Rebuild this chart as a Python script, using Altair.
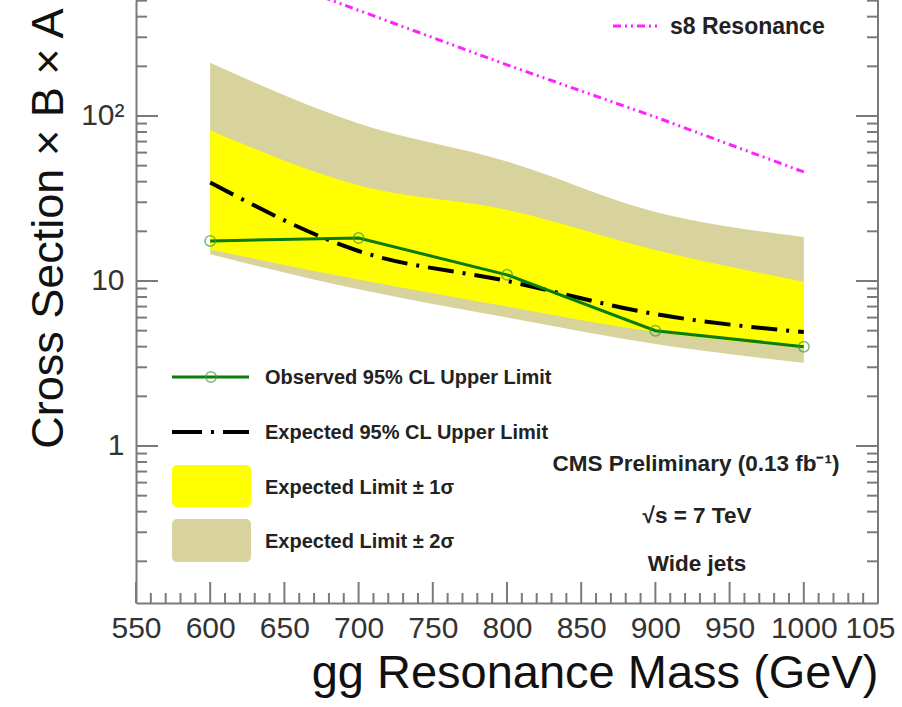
import altair as alt
import pandas as pd

# Resonance mass points (GeV) and cross-section limits (pb)
mass = [600, 700, 800, 900, 1000]
observed = [17.5, 18.2, 10.9, 5.0, 4.0]
expected = [39.5, 15.2, 10.0, 6.3, 4.9]
band1_lo = [15.5, 10.2, 7.0, 4.9, 3.95]
band1_hi = [82.0, 38.0, 27.0, 15.4, 9.9]
band2_lo = [14.5, 8.9, 6.0, 4.15, 3.2]
band2_hi = [210.0, 90.0, 53.0, 26.2, 18.5]
s8_xsec = [940.0, 437.0, 204.0, 98.6, 45.8]

# Axis tick values
x_major = list(range(550, 1051, 50))
x_minor = [v for v in range(550, 1051, 10) if v % 50]
y_major = [1, 10, 100]
y_minor = ([round(0.1 * k, 1) for k in range(2, 10)] + list(range(2, 10))
           + list(range(20, 100, 10)) + [200, 300, 400, 500])

legend_labels = ["Observed 95% CL Upper Limit", "Expected 95% CL Upper Limit",
                 "Expected Limit \u00b1 1\u03c3", "Expected Limit \u00b1 2\u03c3"]

W, H = 742, 603
FONT = "Liberation Sans"
AXIS = "#7a7a7a"
YELLOW = "#ffff00"
BEIGE = "#d8d39c"
GREEN = "#0a7d0a"
MAGENTA = "#ff22ff"

df = pd.DataFrame({
    "mass": mass, "observed": observed, "expected": expected,
    "band1_lo": band1_lo, "band1_hi": band1_hi,
    "band2_lo": band2_lo, "band2_hi": band2_hi, "s8": s8_xsec,
})

xs = alt.Scale(domain=[550, 1050], nice=False, zero=False)
ys = alt.Scale(type="log", domain=[0.1118, 504.7], nice=False)

xaxis = alt.Axis(
    values=x_major, format="d",
    labelExpr="datum.value == 1050 ? '105' : datum.label",
    labelOffset={"condition": {"test": "datum.value == 1050", "value": -8}, "value": 0},
    ticks=False, grid=False, domainColor=AXIS, domainWidth=2,
    labelFont=FONT, labelFontSize=30, labelColor="#333333", labelPadding=10,
    labelFlush=False, labelOverlap=False,
    title="gg Resonance Mass (GeV)", titleFont=FONT, titleFontSize=47,
    titleFontWeight="normal", titleColor="#111111", titleAnchor="end",
    titleBaseline="alphabetic", titleY=84,
)
yaxis = alt.Axis(
    values=y_major,
    labelExpr="datum.value >= 99 ? '10\u00b2' : (datum.value >= 9 ? '10' : '1')",
    ticks=False, grid=False, domainColor=AXIS, domainWidth=2,
    labelFont=FONT, labelFontSize=30, labelColor="#333333", labelPadding=12,
    labelOverlap=False,
    title="Cross Section \u00d7 B \u00d7 A", titleFont=FONT, titleFontSize=45,
    titleFontWeight="normal", titleColor="#111111", titleAngle=270,
    titleAnchor="end", titleAlign="right", titleBaseline="alphabetic",
    titleX=-74, titleY=8,
)

X = alt.X("mass:Q", scale=xs, axis=xaxis)

band2 = alt.Chart(df).mark_area(color=BEIGE, interpolate="monotone").encode(
    x=X, y=alt.Y("band2_lo:Q", scale=ys, axis=yaxis), y2="band2_hi:Q")
band1 = alt.Chart(df).mark_area(color=YELLOW, interpolate="monotone").encode(
    x=X, y=alt.Y("band1_lo:Q", scale=ys, axis=yaxis), y2="band1_hi:Q")
exp_line = alt.Chart(df).mark_line(
    color="black", strokeWidth=4, strokeDash=[26, 9, 3, 9], interpolate="monotone"
).encode(x=X, y=alt.Y("expected:Q", scale=ys, axis=yaxis))
obs_line = alt.Chart(df).mark_line(color=GREEN, strokeWidth=3).encode(
    x=X, y=alt.Y("observed:Q", scale=ys, axis=yaxis))
obs_pts = alt.Chart(df).mark_point(
    shape="circle", filled=False, color="#3f9f3f", size=110, strokeWidth=1.5
).encode(x=X, y=alt.Y("observed:Q", scale=ys, axis=yaxis))
s8_line = alt.Chart(df).mark_line(
    color=MAGENTA, strokeWidth=3, strokeDash=[8, 4, 2, 4, 2, 4], clip=True
).encode(x=X, y=alt.Y("s8:Q", scale=ys, axis=yaxis))

# Inward-pointing ticks on the bottom, left and right frame edges
xmaj = pd.DataFrame({"v": x_major})
xmin = pd.DataFrame({"v": x_minor})
ymaj = pd.DataFrame({"v": y_major})
ymin = pd.DataFrame({"v": y_minor})
XV = alt.X("v:Q", scale=xs, axis=xaxis)
YV = alt.Y("v:Q", scale=ys, axis=yaxis)
tick_style = dict(color=AXIS, strokeWidth=2)
ticks = [
    alt.Chart(xmaj).mark_rule(**tick_style).encode(x=XV, y=alt.value(H), y2=alt.value(H - 21)),
    alt.Chart(xmin).mark_rule(**tick_style).encode(x=XV, y=alt.value(H), y2=alt.value(H - 10)),
    alt.Chart(ymaj).mark_rule(**tick_style).encode(y=YV, x=alt.value(0), x2=alt.value(22)),
    alt.Chart(ymin).mark_rule(**tick_style).encode(y=YV, x=alt.value(0), x2=alt.value(11)),
    alt.Chart(ymaj).mark_rule(**tick_style).encode(y=YV, x=alt.value(W - 22), x2=alt.value(W)),
    alt.Chart(ymin).mark_rule(**tick_style).encode(y=YV, x=alt.value(W - 11), x2=alt.value(W)),
]
one = pd.DataFrame({"k": [0]})
right_edge = alt.Chart(one).mark_rule(color=AXIS, strokeWidth=2).encode(
    x=alt.value(W), y=alt.value(0), y2=alt.value(H))

# Legend drawn inside the frame
leg_text = dict(font=FONT, fontSize=20, fontWeight="bold", color="#222222",
                align="left", baseline="middle")
legend = [
    alt.Chart(one).mark_rule(color=GREEN, strokeWidth=3).encode(
        x=alt.value(36), x2=alt.value(113), y=alt.value(377)),
    alt.Chart(one).mark_point(shape="circle", filled=False, color="#3f9f3f",
                              size=110, strokeWidth=1.5).encode(
        x=alt.value(75), y=alt.value(377)),
    alt.Chart(one).mark_rule(color="black", strokeWidth=4,
                             strokeDash=[30, 9, 3, 9]).encode(
        x=alt.value(36), x2=alt.value(113), y=alt.value(432)),
    alt.Chart(one).mark_rect(color=YELLOW, cornerRadius=5).encode(
        x=alt.value(36), x2=alt.value(115), y=alt.value(465), y2=alt.value(507)),
    alt.Chart(one).mark_rect(color=BEIGE, cornerRadius=5).encode(
        x=alt.value(36), x2=alt.value(115), y=alt.value(519), y2=alt.value(562)),
    alt.Chart(one).mark_text(text=legend_labels[0], **leg_text).encode(
        x=alt.value(129), y=alt.value(378)),
    alt.Chart(one).mark_text(text=legend_labels[1], **leg_text).encode(
        x=alt.value(129), y=alt.value(433)),
    alt.Chart(one).mark_text(text=legend_labels[2], **leg_text).encode(
        x=alt.value(129), y=alt.value(488)),
    alt.Chart(one).mark_text(text=legend_labels[3], **leg_text).encode(
        x=alt.value(129), y=alt.value(542)),
    alt.Chart(one).mark_rule(color=MAGENTA, strokeWidth=3,
                             strokeDash=[8, 4, 2, 4, 2, 4]).encode(
        x=alt.value(477), x2=alt.value(522), y=alt.value(26)),
    alt.Chart(one).mark_text(text="s8 Resonance", **dict(leg_text, fontSize=23)).encode(
        x=alt.value(534), y=alt.value(27)),
]

note = dict(font=FONT, fontSize=22.5, fontWeight="bold", color="#222222",
            align="center", baseline="middle")
notes = [
    alt.Chart(one).mark_text(text="CMS Preliminary (0.13 fb\u207b\u00b9)", **note).encode(
        x=alt.value(560), y=alt.value(464)),
    alt.Chart(one).mark_text(text="\u221as = 7 TeV", **note).encode(
        x=alt.value(561), y=alt.value(516)),
    alt.Chart(one).mark_text(text="Wide jets", **note).encode(
        x=alt.value(561), y=alt.value(564)),
]

chart = alt.layer(
    band2, band1, exp_line, obs_line, obs_pts, s8_line,
    *ticks, right_edge, *legend, *notes,
).properties(
    width=W, height=H,
    padding={"left": 136, "top": 0, "right": 24, "bottom": 104},
    autosize=alt.AutoSizeParams(type="none"),
    background="white",
).configure_view(stroke=None)

chart.save("out.html", embed_options={"renderer": "svg", "actions": False})
